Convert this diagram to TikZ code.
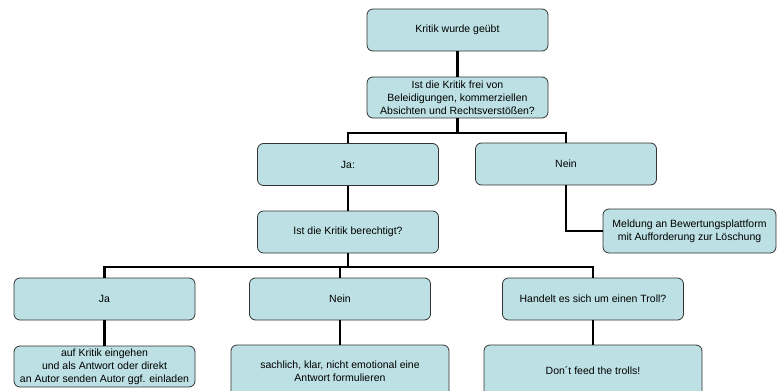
\documentclass[tikz,border=0pt]{standalone}
\usepackage{fontspec}
\setmainfont{Liberation Sans}
\usepackage{tikz}
\usepackage{xcolor}
\usetikzlibrary{positioning,calc}
\definecolor{boxTeal}{RGB}{188,224,227}
\definecolor{boxEdge}{RGB}{51,51,51}

\begin{document}
\begin{tikzpicture}[
            x=1pt, y=-1pt,
            block/.style={rectangle, rounded corners=6pt, draw=boxEdge, line width=0.8pt, fill=boxTeal, minimum width=181pt, minimum height=42pt, align=center, inner sep=2pt, font=\fontsize{10.5}{13}\selectfont},
            wideblock/.style={block, minimum width=218pt, minimum height=52pt},
            conn/.style={line width=2.2pt, black}
        ]
            \useasboundingbox (0,0) rectangle (777,391);

            % first question
            \node[block] (start) at (457.5,30) {Kritik wurde geübt};
            \node[block, minimum height=41pt] (frei) at (457.5,97.5) {Ist die Kritik frei von\\Beleidigungen, kommerziellen\\Absichten und Rechtsverstößen?};
            \node[block] (jaA) at (348,164.5) {Ja:};
            \node[block] (neinA) at (566,164) {Nein};
            \node[block, minimum width=173pt, minimum height=44pt] (meldung) at (689.5,231) {Meldung an Bewertungsplattform\\mit Aufforderung zur Löschung};

            % second question
            \node[block] (berechtigt) at (348,232) {Ist die Kritik berechtigt?};
            \node[block] (jaB) at (104.5,299) {Ja};
            \node[block] (neinB) at (340,299) {Nein};
            \node[block] (troll) at (593,299) {Handelt es sich um einen Troll?};
            \node[block, minimum height=41pt] (eingehen) at (104.5,366.5) {auf Kritik eingehen\\und als Antwort oder direkt\\an Autor senden Autor ggf. einladen};
            \node[wideblock] (sachlich) at (340,371) {sachlich, klar, nicht emotional eine\\Antwort formulieren};
            \node[wideblock] (feed) at (593,371) {Don´t feed the trolls!};

            \coordinate (splitA) at (457.5,133);
            \coordinate (splitB) at (348,267);

            \draw[conn] (start) -- (frei);
            \draw[conn] (frei) -- (splitA) -| (jaA);
            \draw[conn] (splitA) -| (neinA);
            \draw[conn] (neinA) |- (meldung);
            \draw[conn] (jaA) -- (berechtigt);
            \draw[conn] (berechtigt) -- (splitB) -| (jaB);
            \draw[conn] (splitB) -| (neinB);
            \draw[conn] (splitB) -| (troll);
            \draw[conn] (jaB) -- (eingehen);
            \draw[conn] (neinB) -- (sachlich);
            \draw[conn] (troll) -- (feed);
        \end{tikzpicture}
\end{document}
